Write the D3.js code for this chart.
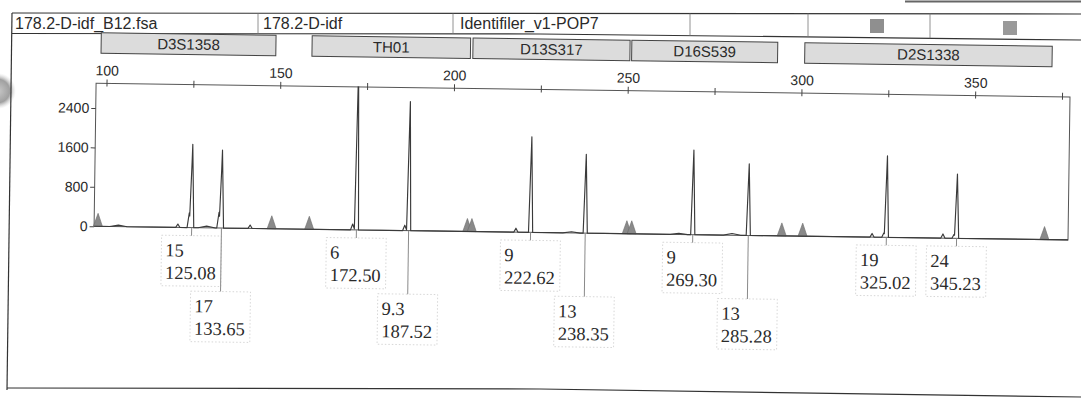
<!DOCTYPE html>
<html>
<head>
<meta charset="utf-8">
<script src="https://cdn.jsdelivr.net/npm/d3@7"></script>
<style>
  html, body { margin: 0; padding: 0; background: #fff; }
  svg { display: block; }
</style>
</head>
<body>
<svg id="chart" width="1081" height="401"></svg>
<script>
// ---- sample header ----
const headerCells = ["178.2-D-idf_B12.fsa", "178.2-D-idf", "Identifiler_v1-POP7"];

// ---- loci of the dye panel (bp range of each marker) ----
const lociNames = ["D3S1358", "TH01", "D13S317", "D16S539", "D2S1338"];
const lociStart = [98.3, 159.0, 205.3, 251.0, 300.8];
const lociEnd   = [148.6, 204.6, 250.5, 293.0, 372.0];

// ---- called alleles: name, size (bp), height (RFU) ----
const alleleNames   = ["15", "17", "6", "9.3", "9", "13", "9", "13", "19", "24"];
const alleleSizes   = [125.08, 133.65, 172.50, 187.52, 222.62, 238.35, 269.30, 285.28, 325.02, 345.23];
const alleleHeights = [1690, 1580, 3300, 2620, 1940, 1600, 1715, 1450, 1655, 1305];

// ---- minor peaks: stutter, shoulders and small noise ----
const minorSizes   = [104.0, 121.1, 124.35, 129.4, 132.9, 141.9, 171.4, 186.4, 218.4, 234.4, 265.3, 280.6, 320.9, 324.3, 341.3, 344.5];
const minorHeights = [30, 70, 300, 35, 320, 70, 120, 110, 80, 25, 25, 35, 75, 90, 85, 80];

// ---- shaded triangle markers on the baseline ----
const markerSizes = [98.1, 148.1, 158.9, 204.4, 205.7, 250.3, 251.7, 294.9, 300.9, 370.5];

// ---- axis ticks ----
const xTickValues = [100, 125, 150, 175, 200, 225, 250, 275, 300, 325, 350, 375];
const xTickLabels = ["100", "", "150", "", "200", "", "250", "", "300", "", "350", ""];
const yTickValues = [0, 800, 1600, 2400];
const yTickLabels = ["0", "800", "1600", "2400"];

const svg = d3.select("#chart");
const sans = "'Liberation Sans', Arial, sans-serif";
const serif = "'Liberation Serif', 'Times New Roman', serif";
const ink = "#2a2a2a";

// ---- page frame and header table ----
const defs = svg.append("defs");
const punch = defs.append("radialGradient").attr("id", "punch");
punch.append("stop").attr("offset", "0%").attr("stop-color", "#c8c8c8");
punch.append("stop").attr("offset", "65%").attr("stop-color", "#a0a0a0");
punch.append("stop").attr("offset", "100%").attr("stop-color", "#d8d8d8").attr("stop-opacity", 0);
svg.append("circle").attr("cx", -2).attr("cy", 91).attr("r", 18).attr("fill", "url(#punch)");

const frame = svg.append("g").attr("fill", "none").attr("stroke", "#333").attr("stroke-width", 1.2);
frame.append("path").attr("d", "M12,13 L1081,14");
frame.append("path").attr("d", "M12,33.5 L540,34 L1081,40");
frame.append("path").attr("d", "M12,13 L7,390");
frame.append("path").attr("d", "M7,388 L540,389 L1081,397");
frame.append("path").attr("d", "M905,1.5 L1081,1.5").attr("stroke", "#666").attr("stroke-width", 2);

const dividerX = [258, 453, 690, 808, 930];
const lowerY = xx => xx <= 540 ? 33.5 + (xx - 12) / 528 * 0.5 : 34 + (xx - 540) / 541 * 6;
frame.selectAll("line.div").data(dividerX).join("line")
  .attr("x1", d => d).attr("x2", d => d)
  .attr("y1", 13.5).attr("y2", d => lowerY(d))
  .attr("stroke", "#777").attr("stroke-width", 0.8);

const headerX = [15, 263, 460];
svg.selectAll("text.hdr").data(headerCells).join("text")
  .attr("x", (d, i) => headerX[i]).attr("y", 29)
  .attr("font-family", sans).attr("font-size", 16).attr("fill", ink)
  .text(d => d);

svg.append("rect").attr("x", 870).attr("y", 19).attr("width", 14).attr("height", 14).attr("fill", "#8f8f8f");
svg.append("rect").attr("x", 1003).attr("y", 21).attr("width", 14).attr("height", 14).attr("fill", "#9a9a9a");

// ---- electropherogram panel ----
const g = svg.append("g").attr("transform", "rotate(0.8, 540, 200)");

const plot = { left: 94.5, right: 1068.5, top: 89.5, bottom: 232.5 };
const x = d3.scaleLinear().domain([97, 377.3]).range([plot.left, plot.right]);
const y = d3.scaleLinear().domain([0, 2900]).range([plot.bottom, plot.top]);

// marker bar
const loci = lociNames.map((n, i) => ({ name: n, start: lociStart[i], end: lociEnd[i] }));
const lb = g.append("g");
lb.selectAll("rect").data(loci).join("rect")
  .attr("x", d => x(d.start)).attr("y", 39)
  .attr("width", d => x(d.end) - x(d.start)).attr("height", 20.5)
  .attr("fill", "#dcdcdc").attr("stroke", "#444").attr("stroke-width", 1);
lb.selectAll("text").data(loci).join("text")
  .attr("x", d => (x(d.start) + x(d.end)) / 2).attr("y", 54.5)
  .attr("text-anchor", "middle")
  .attr("font-family", sans).attr("font-size", 15).attr("fill", ink)
  .text(d => d.name);

// plot frame
g.append("rect")
  .attr("x", plot.left).attr("y", plot.top)
  .attr("width", plot.right - plot.left).attr("height", plot.bottom - plot.top)
  .attr("fill", "none").attr("stroke", "#555").attr("stroke-width", 1);

// top size axis
const xAxis = d3.axisTop(x).tickValues(xTickValues)
  .tickFormat((d, i) => xTickLabels[i]).tickSize(4).tickPadding(4);
const xg = g.append("g").attr("transform", `translate(0,${plot.top})`).call(xAxis);
xg.select(".domain").remove();
xg.selectAll(".tick line").attr("y2", -4).attr("y1", 3).attr("stroke", "#444");
xg.selectAll(".tick text").attr("font-family", sans).attr("font-size", 14).attr("fill", ink);

// left RFU axis
const yAxis = d3.axisLeft(y).tickValues(yTickValues)
  .tickFormat((d, i) => yTickLabels[i]).tickSize(4.5).tickPadding(2);
const yg = g.append("g").attr("transform", `translate(${plot.left},0)`).call(yAxis);
yg.select(".domain").remove();
yg.selectAll(".tick line").attr("stroke", "#444");
yg.selectAll(".tick text").attr("font-family", sans).attr("font-size", 14).attr("fill", ink);

// shaded triangle markers
g.append("g").selectAll("path").data(markerSizes).join("path")
  .attr("d", d => {
    const cx = x(d), b = y(0);
    return `M${cx - 4.5},${b} L${cx},${b - 13} L${cx + 4.5},${b} Z`;
  })
  .attr("fill", "#8a8a8a").attr("stroke", "#6a6a6a").attr("stroke-width", 0.6);

// trace: every peak is a narrow spike; the trace is their piecewise-linear sum
const peaks = alleleSizes.map((s, i) => ({ bp: s, h: alleleHeights[i], hw: 0.6 }))
  .concat(minorSizes.map((s, i) => ({ bp: s, h: minorHeights[i], hw: minorHeights[i] < 40 ? 2.5 : 0.6 })));
const knots = new Set([x.domain()[0], x.domain()[1]]);
peaks.forEach(p => { knots.add(p.bp - p.hw); knots.add(p.bp); knots.add(p.bp + p.hw); });
const traceData = Array.from(knots).sort((a, b) => a - b).map(k => ({
  bp: k,
  v: d3.sum(peaks, p => Math.max(0, p.h * (1 - Math.abs(k - p.bp) / p.hw)))
}));
defs.append("clipPath").attr("id", "plotClip").append("rect")
  .attr("x", plot.left).attr("y", plot.top - 0.5)
  .attr("width", plot.right - plot.left).attr("height", plot.bottom - plot.top + 2);
g.append("path").datum(traceData)
  .attr("clip-path", "url(#plotClip)")
  .attr("d", d3.line().x(d => x(d.bp)).y(d => y(d.v)))
  .attr("fill", "none").attr("stroke", "#3a3a3a").attr("stroke-width", 1.15)
  .attr("stroke-linejoin", "round");

// allele call labels below the baseline
const rowBase = [261.5, 317];
const lineGap = 22.5;
const labels = alleleNames.map((n, i) => ({ name: n, size: alleleSizes[i] }));
const lg = g.append("g");
let lastRight = -Infinity;
labels.forEach(d => {
  const grp = lg.append("g");
  const t1 = grp.append("text").attr("font-family", serif).attr("font-size", 18.5).attr("fill", ink).text(d.name);
  const t2 = grp.append("text").attr("font-family", serif).attr("font-size", 18.5).attr("fill", ink).text(d.size.toFixed(2));
  const w = Math.max(t1.node().getComputedTextLength(), t2.node().getComputedTextLength());
  const px = x(d.size);
  const boxW = w + 9;
  const bx = px - boxW / 2;
  let row = 0;
  if (bx < lastRight + 2) row = 1; else lastRight = bx + boxW;
  const base = rowBase[row];
  t1.attr("x", bx + 4).attr("y", base);
  t2.attr("x", bx + 4).attr("y", base + lineGap);
  const top = base - 21;
  grp.insert("rect", "text")
    .attr("x", bx).attr("y", top).attr("width", boxW).attr("height", lineGap + 28)
    .attr("fill", "none").attr("stroke", "#cdcdcd").attr("stroke-width", 0.8)
    .attr("stroke-dasharray", "1.5,2");
  grp.insert("line", "rect")
    .attr("x1", px).attr("x2", px).attr("y1", y(0)).attr("y2", top)
    .attr("stroke", "#8a8a8a").attr("stroke-width", 1);
});
</script>
</body>
</html>
